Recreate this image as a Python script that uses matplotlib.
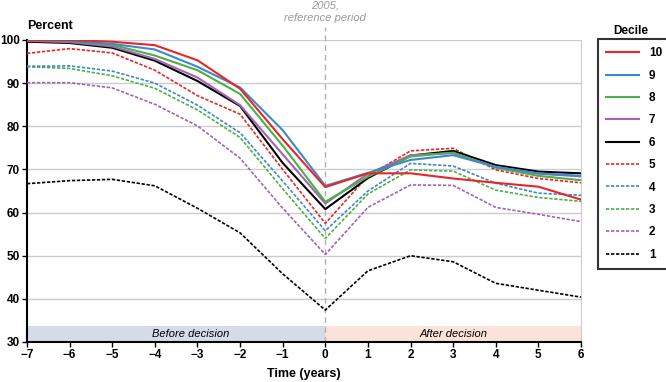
import matplotlib
matplotlib.use("Agg")
import matplotlib.pyplot as plt

plt.rcParams["font.family"] = ["Liberation Sans", "DejaVu Sans"]
plt.rcParams["axes.unicode_minus"] = True

# Data
years = [-7, -6, -5, -4, -3, -2, -1, 0, 1, 2, 3, 4, 5, 6]
deciles = ["10", "9", "8", "7", "6", "5", "4", "3", "2", "1"]
d10 = [100, 100, 99.6, 98.8, 95.3, 88.7, 77.0, 65.9, 69.1, 69.1, 67.9, 66.9, 66.0, 63.0]
d9 = [100, 99.8, 99.1, 97.8, 93.8, 89.0, 79.1, 66.2, 69.2, 72.2, 73.3, 70.6, 69.1, 68.5]
d8 = [100, 99.7, 98.9, 96.4, 93.0, 87.5, 75.5, 62.5, 68.3, 73.0, 73.9, 70.4, 68.5, 67.5]
d7 = [99.8, 99.5, 98.5, 95.6, 91.3, 84.9, 73.5, 62.1, 69.0, 73.3, 73.8, 70.6, 69.0, 68.4]
d6 = [99.6, 99.3, 98.2, 95.2, 90.5, 84.7, 71.5, 60.8, 68.0, 73.2, 74.3, 71.0, 69.5, 69.1]
d5 = [96.9, 98.0, 97.0, 93.0, 87.1, 82.8, 70.0, 57.5, 68.5, 74.3, 74.9, 69.9, 67.9, 66.9]
d4 = [93.9, 94.0, 92.8, 90.0, 84.9, 78.5, 67.3, 55.8, 65.0, 71.4, 70.8, 66.8, 64.5, 64.0]
d3 = [93.8, 93.4, 91.7, 88.8, 83.8, 77.4, 65.5, 54.0, 64.3, 69.9, 69.6, 65.2, 63.5, 62.6]
d2 = [90.1, 90.1, 88.9, 85.1, 80.1, 72.6, 61.0, 50.3, 61.2, 66.4, 66.3, 61.2, 59.6, 57.9]
d1 = [66.7, 67.4, 67.7, 66.2, 61.0, 55.3, 45.8, 37.4, 46.5, 50.0, 48.6, 43.6, 42.0, 40.4]
series = [d10, d9, d8, d7, d6, d5, d4, d3, d2, d1]

colors = ["#e8262a", "#3f88c9", "#4bb047", "#a263b4", "#000000"] * 2
solid = [True] * 5 + [False] * 5

fig = plt.figure(figsize=(6.66, 3.82), dpi=100)
ax = fig.add_axes([27 / 666, 1 - 342 / 382, (581 - 27) / 666, (342 - 40) / 382])

# Shaded period bands
ax.axhspan(30, 33.7, xmin=0, xmax=7 / 13, color="#d5dce8", lw=0, zorder=1)
ax.axhspan(30, 33.7, xmin=7 / 13, xmax=1, color="#fbe3da", lw=0, zorder=1)
ax.text(-3.15, 31.8, "Before decision", ha="center", va="center",
        style="italic", fontsize=8, zorder=2)
ax.text(3.0, 31.8, "After decision", ha="center", va="center",
        style="italic", fontsize=8, zorder=2)

# Grid lines
for v in range(40, 101, 10):
    ax.axhline(v, color="#cccccc", lw=1, zorder=0)

# Reference line
ax.plot([0, 0], [30, 103], color="#b0b0b0", lw=1, ls=(0, (4, 3)),
        clip_on=False, zorder=1)
fig.text(325 / 666, 1 - 1 / 382, "2005,\nreference period", ha="center", va="top",
         style="italic", fontsize=8, color="#999999", linespacing=1.2)

handles = []
for i in range(len(series) - 1, -1, -1):
    if solid[i]:
        ln, = ax.plot(years, series[i], color=colors[i], lw=1.5, zorder=4)
    else:
        ln, = ax.plot(years, series[i], color=colors[i], lw=1.2,
                      ls=(0, (2, 1)), zorder=3)
    handles.append(ln)
handles = handles[::-1]

ax.set_xlim(-7, 6)
ax.set_ylim(30, 100)
ax.set_xticks(years)
ax.set_xticklabels([("\u2212%d" % -y) if y < 0 else str(y) for y in years])
ax.set_yticks(range(30, 101, 10))
for lab in ax.get_xticklabels() + ax.get_yticklabels():
    lab.set_fontweight("bold")
    lab.set_fontsize(8.5)
ax.tick_params(direction="out", length=3.5, width=1, pad=1.5)

ax.spines["top"].set_visible(False)
ax.spines["right"].set_color("#cccccc")
ax.spines["left"].set_linewidth(1.5)
ax.spines["bottom"].set_linewidth(1.5)

ax.set_xlabel("Time (years)", fontweight="bold", fontsize=9, labelpad=5)
ax.text(0, 1.025, "Percent", transform=ax.transAxes, fontweight="bold",
        fontsize=9, ha="left", va="bottom")

leg = fig.legend(handles, deciles, loc="upper left",
                 bbox_to_anchor=(598 / 666, 1 - 39 / 382),
                 bbox_transform=fig.transFigure, borderaxespad=0,
                 fancybox=False, frameon=True, handlelength=2.8,
                 handletextpad=0.8, labelspacing=0.88, borderpad=0.7,
                 prop={"weight": "bold", "size": 8.5})
leg.get_frame().set_edgecolor("black")
leg.get_frame().set_linewidth(1.5)
fig.text(631 / 666, 1 - 31 / 382, "Decile", ha="center", va="center",
         fontweight="bold", fontsize=8.5)

fig.savefig("out.png", dpi=100)
